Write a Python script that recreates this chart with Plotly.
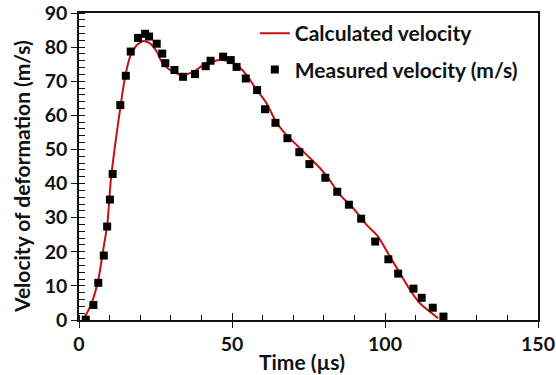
import plotly.graph_objects as go

# Measured deformation velocity (time in µs, velocity in m/s)
measured_t = [2.2, 4.7, 6.3, 8.1, 9.2, 10.1, 11.0, 13.5, 15.3, 16.9, 19.3, 21.6, 22.9,
              25.4, 27.2, 28.2, 31.2, 34.0, 37.9, 41.4, 43.0, 47.1, 49.6, 51.5, 54.5,
              58.2, 60.8, 64.2, 68.1, 72.0, 75.3, 80.5, 84.4, 88.2, 92.2, 96.8, 101.1,
              104.3, 109.3, 112.0, 115.6, 119.1]
measured_v = [0.1, 4.4, 10.9, 18.9, 27.4, 35.3, 42.8, 63.0, 71.6, 78.7, 82.7, 83.9, 83.1,
              81.0, 78.1, 75.3, 73.3, 71.3, 72.1, 74.4, 76.0, 77.2, 76.2, 74.2, 70.8,
              67.4, 61.8, 57.8, 53.3, 49.2, 45.7, 41.7, 37.6, 33.8, 29.7, 23.0, 17.8,
              13.6, 9.2, 6.5, 3.6, 1.0]

# Calculated deformation velocity
calc_t = [1.4, 4.1, 6.3, 7.9, 9.3, 10.4, 13.4, 15.0, 16.7, 18.9, 21.0, 23.2, 25.4, 27.0,
          29.7, 33.6, 37.4, 41.7, 46.1, 48.8, 51.5, 54.8, 57.5, 61.3, 64.1, 66.8, 70.0,
          74.4, 78.8, 81.5, 85.3, 89.6, 94.0, 97.8, 101.6, 104.9, 108.2, 111.4, 114.7,
          117.4]
calc_v = [0.0, 4.9, 11.7, 20.5, 28.4, 41.0, 61.6, 70.9, 77.2, 80.6, 81.8, 81.1, 78.7, 75.7,
          73.3, 71.8, 72.8, 75.3, 76.2, 75.9, 74.8, 71.8, 68.2, 63.5, 58.6, 55.2, 52.3,
          48.4, 44.5, 41.5, 36.7, 32.8, 27.9, 24.4, 18.6, 13.7, 8.8, 4.9, 2.4, 0.5]

x_ticks = [0, 50, 100, 150]
y_ticks = [0, 10, 20, 30, 40, 50, 60, 70, 80, 90]

FONT = "Lato"
INK = "#111111"
TEXT_SIZE = 21

fig = go.Figure()
fig.add_trace(go.Scatter(
    x=calc_t, y=calc_v, mode="lines", name="Calculated velocity",
    line=dict(color="#c81010", width=2, shape="spline", smoothing=0.6),
    legendgroup="a",
))
fig.add_trace(go.Scatter(
    x=measured_t, y=measured_v, mode="markers", name="Measured velocity (m/s)",
    marker=dict(symbol="square", size=8, color="black"),
    legendgroup="b",
))

axis_common = dict(
    showline=True, linecolor=INK, linewidth=1.5, mirror=True,
    showgrid=False, zeroline=False, automargin=False,
    ticks="outside", ticklen=6, tickwidth=1.3, tickcolor=INK,
    tickfont=dict(family=FONT, size=19.5, color=INK, weight="bold"),
)

fig.update_layout(
    template="none",
    width=556, height=375,
    margin=dict(l=79, r=18, t=13, b=55),
    plot_bgcolor="white", paper_bgcolor="white",
    font=dict(family=FONT, color=INK),
    showlegend=True,
    legend=dict(
        x=0.383, y=1.0, xanchor="left", yanchor="top",
        bgcolor="rgba(0,0,0,0)",
        font=dict(family=FONT, size=TEXT_SIZE, color=INK, weight="bold"),
        tracegroupgap=6, itemwidth=30,
    ),
    xaxis=dict(
        range=[0, 150], tickvals=x_ticks, **axis_common,
        minor=dict(dtick=10, ticks="inside", ticklen=5, tickwidth=1.2, tickcolor=INK),
    ),
    yaxis=dict(
        range=[0, 90], tickvals=y_ticks, **axis_common,
        minor=dict(dtick=2, ticks="inside", ticklen=6, tickwidth=1.2, tickcolor=INK),
    ),
    # overlay axes supply the inner halves of the crossing major ticks
    xaxis2=dict(range=[0, 150], tickvals=x_ticks, overlaying="x", side="bottom",
                ticks="inside", ticklen=7, tickwidth=1.3, tickcolor=INK, automargin=False,
                showticklabels=False, showgrid=False, zeroline=False, showline=False),
    yaxis2=dict(range=[0, 90], tickvals=y_ticks, overlaying="y", side="left",
                ticks="inside", ticklen=6, tickwidth=1.3, tickcolor=INK, automargin=False,
                showticklabels=False, showgrid=False, zeroline=False, showline=False),
    annotations=[
        dict(text="Time (µs)", x=0.485, y=-0.134, xref="paper", yref="paper",
             xanchor="center", yanchor="middle", showarrow=False,
             font=dict(family=FONT, size=TEXT_SIZE, color=INK, weight="bold")),
        dict(text="Velocity of deformation (m/s)", x=-0.124, y=0.466, xref="paper",
             yref="paper", xanchor="center", yanchor="middle", textangle=-90,
             showarrow=False,
             font=dict(family=FONT, size=TEXT_SIZE, color=INK, weight="bold")),
    ],
)

# invisible trace to activate the overlay axes
fig.add_trace(go.Scatter(x=[None], y=[None], xaxis="x2", yaxis="y2",
                         showlegend=False, hoverinfo="skip"))

fig.write_html("out.html")
